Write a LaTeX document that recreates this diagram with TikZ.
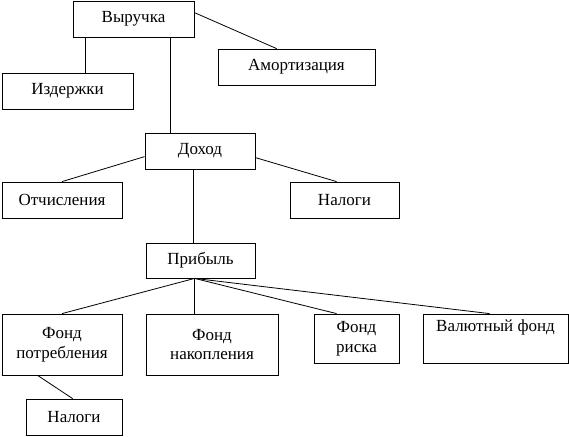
\documentclass[tikz,border=0pt]{standalone}
\usepackage{fontspec}
\setmainfont{Liberation Serif}
\usetikzlibrary{calc}

\begin{document}
\begin{tikzpicture}[x=1pt,y=-1pt,
  box/.style={draw,line width=0.8pt,inner sep=0pt,align=center,minimum height=36pt,font=\fontsize{17}{19.5}\selectfont},
  link/.style={line width=0.8pt}]
\useasboundingbox (0,0) rectangle (569,436);
% boxes
\node[box,minimum width=121pt] (vyr) at (133.5,19) {Выручка};
\node[box,minimum width=131pt] (izd) at (67.5,91) {Издержки};
\node[box,minimum width=157pt] (amort) at (296.5,67) {Амортизация};
\node[box,minimum width=110pt] (dohod) at (200,151) {Доход};
\node[box,minimum width=120pt] (otch) at (62,200) {Отчисления};
\node[box,minimum width=109pt] (nal1) at (344.5,200) {Налоги};
\node[box,minimum width=109pt,minimum height=35pt] (prib) at (200.5,260.5) {Прибыль};
\node[box,minimum width=120pt,minimum height=61pt] (fpotr) at (62,344.5) {Фонд\\потребления};
\node[box,minimum width=132pt,minimum height=61pt] (fnak) at (212,344.5) {Фонд\\накопления};
\node[box,minimum width=85pt,minimum height=49pt] (frisk) at (356.5,338.5) {Фонд\\риска};
\node[box,minimum width=145pt,minimum height=49pt] (fval) at (495.5,338.5) {Валютный фонд\\\strut};
\node[box,minimum width=96pt] (nal2) at (74,417) {Налоги};
% links
\draw[link] ($(vyr.south west)+(13,0)$) -- ($(izd.north west)+(84,0)$);
\draw[link] ($(vyr.south west)+(98,0)$) -- ($(dohod.north west)+(26,0)$);
\draw[link] ($(vyr.north east)+(0,12)$) -- ($(amort.north west)+(59,0)$);
\draw[link] ($(dohod.north west)+(0,24)$) -- (otch.north);
\draw[link] ($(dohod.north east)+(0,25)$) -- ($(nal1.north west)+(47,0)$);
\draw[link] ($(dohod.south west)+(49,0)$) -- ($(prib.north west)+(48,0)$);
\coordinate (pb) at ($(prib.south west)+(49,0)$);
\draw[link] (pb) -- (fpotr.north);
\draw[link] (pb) -- ($(fnak.north west)+(49,0)$);
\draw[link] (pb) -- ($(frisk.north west)+(23,0)$);
\draw[link] (pb) -- ($(fval.north west)+(67,0)$);
\draw[link] ($(fpotr.south west)+(36,0)$) -- ($(nal2.north west)+(47,0)$);
\end{tikzpicture}
\end{document}
